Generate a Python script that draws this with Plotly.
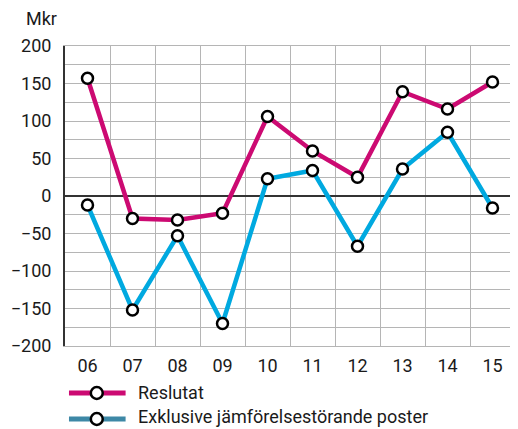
import plotly.graph_objects as go

years = ["06", "07", "08", "09", "10", "11", "12", "13", "14", "15"]
reslutat = [157, -30, -32, -23, 106, 60, 25, 139, 116, 152]
exklusive = [-12, -152, -53, -170, 23, 34, -67, 36, 85, -16]
series_names = ["Reslutat", "Exklusive jämförelsestörande poster"]
line_colors = ["#CC0A72", "#00A9E0"]
legend_colors = ["#CC0A72", "#3D88A6"]
y_ticks = [-200, -150, -100, -50, 0, 50, 100, 150, 200]

FONT = "Roboto"
FS = 18
OFF = 8  # page body margin
FW, FH = 518 - OFF, 429 - OFF
fig = go.Figure()
marker = dict(size=11, color="white", line=dict(color="black", width=2.5))
for vals, col in [(reslutat, line_colors[0]), (exklusive, line_colors[1])]:
    fig.add_trace(go.Scatter(x=years, y=vals, mode="lines+markers",
                             line=dict(color=col, width=4.5), marker=marker,
                             showlegend=False, cliponaxis=False))

# plot area in screenshot pixels
L, T, W, H = 62, 46, 453, 300
def px2paper(x, y):
    return (x - L) / W, (T + H - y) / H
shapes = []
annotations = []
for i, (name, col) in enumerate(zip(series_names, legend_colors)):
    yy = 393 + 26 * i
    x0, y0 = px2paper(66, yy)
    x1, _ = px2paper(123, yy)
    shapes.append(dict(type="line", xref="paper", yref="paper", x0=x0, x1=x1, y0=y0, y1=y0,
                       line=dict(color=col, width=5)))
    cx, cy = px2paper(94, yy)
    rx, ry = 6 / W, 6 / H
    shapes.append(dict(type="circle", xref="paper", yref="paper", x0=cx - rx, x1=cx + rx,
                       y0=cy - ry, y1=cy + ry, fillcolor="white", line=dict(color="black", width=2.5)))
    tx, ty = px2paper(133, yy - 1 - 2 * i)
    annotations.append(dict(text=name, xref="paper", yref="paper", x=tx, y=ty, xanchor="left",
                            yanchor="middle", showarrow=False, font=dict(size=FS, color="#1a1a1a", family=FONT)))

mx, my = px2paper(21, 18)
annotations.append(dict(text="Mkr", xref="paper", yref="paper", x=mx, y=my, xanchor="left",
                        yanchor="middle", showarrow=False, font=dict(size=FS, color="#1a1a1a", family=FONT)))

fig.update_layout(
    width=FW, height=FH,
    margin=dict(l=L - OFF, r=FW - (L - OFF) - W, t=T - OFF, b=FH - (T - OFF) - H),
    paper_bgcolor="white", plot_bgcolor="white",
    font=dict(family=FONT, size=FS, color="#1a1a1a"),
    shapes=shapes, annotations=annotations,
    xaxis=dict(type="category", tickson="boundaries", showgrid=True, gridcolor="#b5b5b5",
               gridwidth=1, ticks="", showline=True, linecolor="#b5b5b5", mirror=True,
               range=[-0.5, 9.5], fixedrange=True, ticklabelstandoff=3),
    yaxis=dict(range=[-200, 200], tickvals=y_ticks, ticktext=[str(v).replace("-", "−") for v in y_ticks],
               showgrid=True, gridcolor="#b5b5b5", gridwidth=1,
               minor=dict(dtick=25, tick0=0, showgrid=True, gridcolor="#b5b5b5", gridwidth=1),
               zeroline=True, zerolinecolor="#333333", zerolinewidth=2,
               showline=True, linecolor="#333333", linewidth=2, ticks="", ticklabelstandoff=8),
)
fig.write_html("out.html")
